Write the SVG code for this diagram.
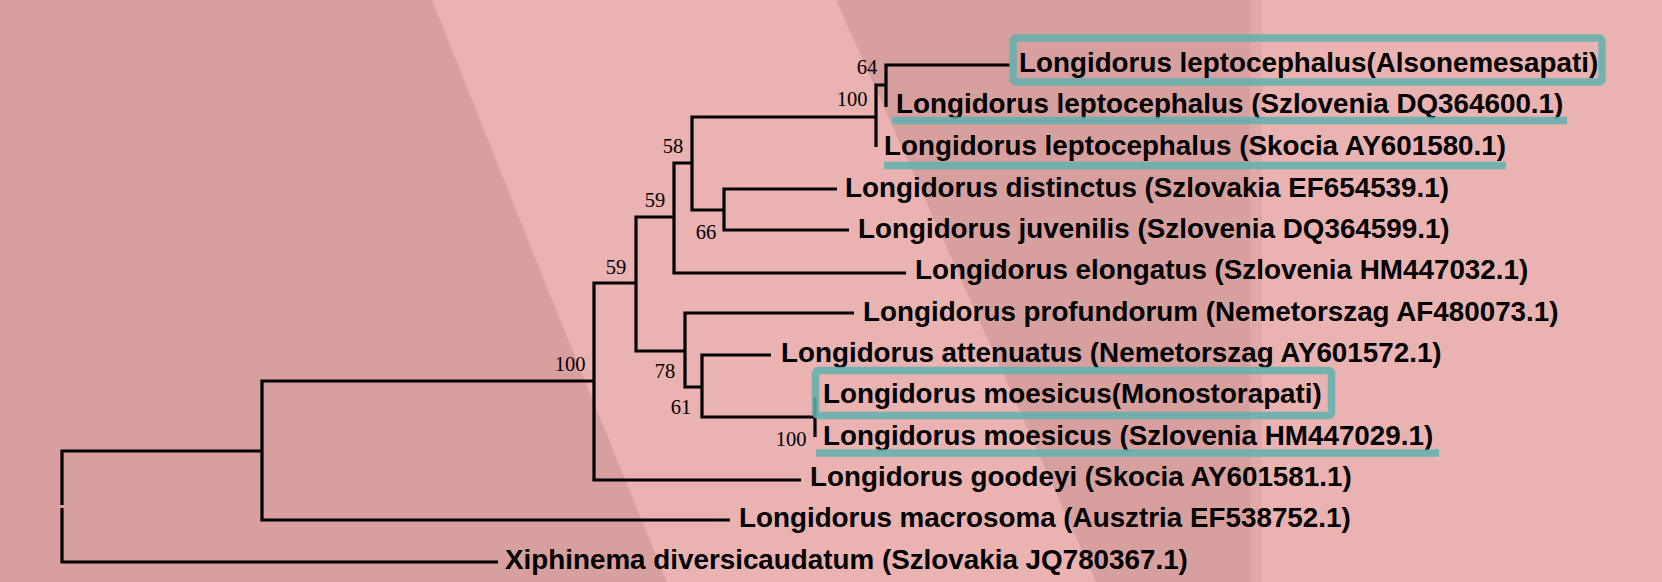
<svg xmlns="http://www.w3.org/2000/svg" width="1662" height="582" viewBox="0 0 1662 582">
<style>
.br{fill:none;stroke:#000;stroke-width:3.2;stroke-linejoin:miter;stroke-linecap:butt}
.lf{font-family:"Liberation Sans",Arial,sans-serif;font-weight:bold;font-size:27.8px;fill:#000}
.bs{font-family:"Liberation Serif","Times New Roman",serif;font-size:20.5px;fill:#000;text-anchor:middle}
.hl{fill:none;stroke:#5fb2af;stroke-opacity:0.85;stroke-width:7.5}
</style>
<g id="background">
<rect x="0" y="0" width="1662" height="582" fill="#eab2b1"/>
<polygon points="0,0 432,0 550,295 667,582 0,582" fill="#d79f9e"/>
<polygon points="836,0 1250,0 1250,582 1096,582 968,295" fill="#d79f9e"/>
<rect x="1250" y="0" width="12" height="582" fill="#e0a9a8"/>
</g>
<g id="connectors">
<path class="br" d="M262,451 H62 V505 M62,508 V562 H498"/>
<path class="br" d="M594,381 H262 V520 H730"/>
<path class="br" d="M636,283 H594 V480 H801"/>
<path class="br" d="M674,217 H636 V351 H685"/>
<path class="br" d="M692,163 H674 V273 H906"/>
<path class="br" d="M876,117 H692 V210 H724"/>
<path class="br" d="M837,189 H724 V230 H849"/>
<path class="br" d="M886,85 H876 V147"/>
<path class="br" d="M1010,65 H886 V107"/>
<path class="br" d="M854,313 H685 V387 H702"/>
<path class="br" d="M771,355 H702 V417 H815"/>
<path class="br" d="M815,397 V437"/>
</g>
<g id="support-values">
<g id="n64"><text class="bs" x="867" y="74">64</text></g>
<g id="n100a"><text class="bs" x="852" y="106">100</text></g>
<g id="n58"><text class="bs" x="673" y="153">58</text></g>
<g id="n59a"><text class="bs" x="655" y="207">59</text></g>
<g id="n66"><text class="bs" x="706" y="239">66</text></g>
<g id="n59b"><text class="bs" x="616" y="274">59</text></g>
<g id="n100b"><text class="bs" x="570" y="371">100</text></g>
<g id="n78"><text class="bs" x="665" y="378">78</text></g>
<g id="n61"><text class="bs" x="681" y="414">61</text></g>
<g id="n100c"><text class="bs" x="791" y="446">100</text></g>
</g>
<g id="leaves">
<g id="leaf1"><text class="lf" x="1019" y="72">Longidorus leptocephalus(Alsonemesapati)</text></g>
<g id="leaf2"><text class="lf" x="896" y="113">Longidorus leptocephalus (Szlovenia DQ364600.1)</text></g>
<g id="leaf3"><text class="lf" x="884" y="155">Longidorus leptocephalus (Skocia AY601580.1)</text></g>
<g id="leaf4"><text class="lf" x="845" y="197">Longidorus distinctus (Szlovakia EF654539.1)</text></g>
<g id="leaf5"><text class="lf" x="858" y="238">Longidorus juvenilis (Szlovenia DQ364599.1)</text></g>
<g id="leaf6"><text class="lf" x="915" y="279">Longidorus elongatus (Szlovenia HM447032.1)</text></g>
<g id="leaf7"><text class="lf" x="863" y="321">Longidorus profundorum (Nemetorszag AF480073.1)</text></g>
<g id="leaf8"><text class="lf" x="781" y="362">Longidorus attenuatus (Nemetorszag AY601572.1)</text></g>
<g id="leaf9"><text class="lf" x="823" y="403">Longidorus moesicus(Monostorapati)</text></g>
<g id="leaf10"><text class="lf" x="823" y="445">Longidorus moesicus (Szlovenia HM447029.1)</text></g>
<g id="leaf11"><text class="lf" x="810" y="486">Longidorus goodeyi (Skocia AY601581.1)</text></g>
<g id="leaf12"><text class="lf" x="739" y="527">Longidorus macrosoma (Ausztria EF538752.1)</text></g>
<g id="leaf13"><text class="lf" x="505" y="569">Xiphinema diversicaudatum (Szlovakia JQ780367.1)</text></g>
</g>
<g id="highlights">
<rect class="hl" x="1013" y="38" width="589" height="44" rx="3"/>
<line class="hl" x1="892" y1="120.5" x2="1567" y2="120.5"/>
<line class="hl" x1="884" y1="165.5" x2="1506" y2="165.5"/>
<rect class="hl" x="815.5" y="370.5" width="516" height="45" rx="3"/>
<line class="hl" x1="816" y1="453" x2="1439" y2="453"/>
</g>
</svg>
